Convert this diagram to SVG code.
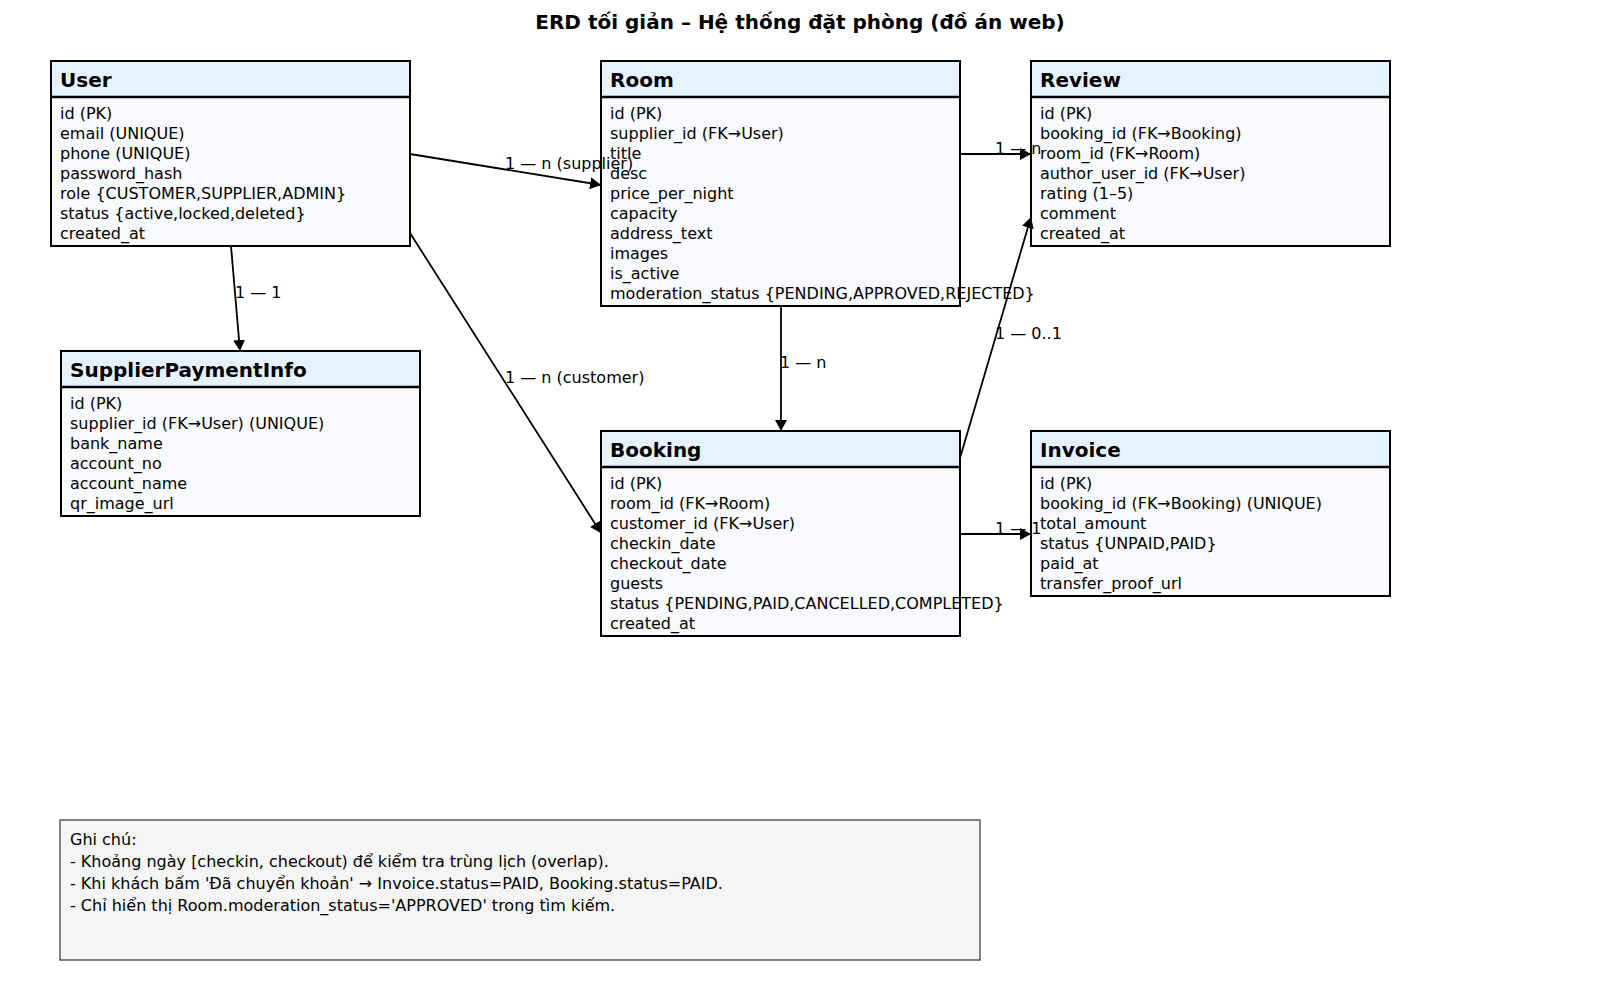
<svg xmlns="http://www.w3.org/2000/svg" width="1600" height="1000" viewBox="0 0 1600 1000">
<style>
text{font-family:"DejaVu Sans","Noto Sans",sans-serif;fill:#000}
.title{font-size:20px;font-weight:bold}
.hdr{font-size:20px;font-weight:bold}
.fld{font-size:16px}
.lbl{font-size:16px}
.note{font-size:16px}
.box{fill:#f8fafd;stroke:#000;stroke-width:2}
.head{fill:#e6f2ff;stroke:#000;stroke-width:2}
.sep{stroke:#000;stroke-width:2.5}
.conn{stroke:#000;stroke-width:1.8;fill:none;marker-end:url(#arr)}
.nbox{fill:#f5f5f5;stroke:#333;stroke-width:1.2}
</style>
<defs>
<marker id="arr" markerUnits="userSpaceOnUse" markerWidth="13" markerHeight="13" refX="11" refY="6" orient="auto">
<path d="M0,0 L11,6 L0,12 z" fill="#000"/>
</marker>
</defs>
<rect width="1600" height="1000" fill="#fff"/>
<text class="title" x="800" y="29" text-anchor="middle">ERD tối giản – Hệ thống đặt phòng (đồ án web)</text>

<g id="node-user">
<rect class="box" x="51" y="61" width="359" height="185"/>
<rect class="head" x="51" y="61" width="359" height="36"/>
<line class="sep" x1="51" y1="97" x2="410" y2="97"/>
<text class="hdr" x="60" y="87">User</text>
<text class="fld" x="60" y="119">id (PK)</text>
<text class="fld" x="60" y="139">email (UNIQUE)</text>
<text class="fld" x="60" y="159">phone (UNIQUE)</text>
<text class="fld" x="60" y="179">password_hash</text>
<text class="fld" x="60" y="199">role {CUSTOMER,SUPPLIER,ADMIN}</text>
<text class="fld" x="60" y="219">status {active,locked,deleted}</text>
<text class="fld" x="60" y="239">created_at</text>
</g>

<g id="node-room">
<rect class="box" x="601" y="61" width="359" height="245"/>
<rect class="head" x="601" y="61" width="359" height="36"/>
<line class="sep" x1="601" y1="97" x2="960" y2="97"/>
<text class="hdr" x="610" y="87">Room</text>
<text class="fld" x="610" y="119">id (PK)</text>
<text class="fld" x="610" y="139">supplier_id (FK→User)</text>
<text class="fld" x="610" y="159">title</text>
<text class="fld" x="610" y="179">desc</text>
<text class="fld" x="610" y="199">price_per_night</text>
<text class="fld" x="610" y="219">capacity</text>
<text class="fld" x="610" y="239">address_text</text>
<text class="fld" x="610" y="259">images</text>
<text class="fld" x="610" y="279">is_active</text>
<text class="fld" x="610" y="299">moderation_status {PENDING,APPROVED,REJECTED}</text>
</g>

<g id="node-review">
<rect class="box" x="1031" y="61" width="359" height="185"/>
<rect class="head" x="1031" y="61" width="359" height="36"/>
<line class="sep" x1="1031" y1="97" x2="1390" y2="97"/>
<text class="hdr" x="1040" y="87">Review</text>
<text class="fld" x="1040" y="119">id (PK)</text>
<text class="fld" x="1040" y="139">booking_id (FK→Booking)</text>
<text class="fld" x="1040" y="159">room_id (FK→Room)</text>
<text class="fld" x="1040" y="179">author_user_id (FK→User)</text>
<text class="fld" x="1040" y="199">rating (1–5)</text>
<text class="fld" x="1040" y="219">comment</text>
<text class="fld" x="1040" y="239">created_at</text>
</g>

<g id="node-supplierpaymentinfo">
<rect class="box" x="61" y="351" width="359" height="165"/>
<rect class="head" x="61" y="351" width="359" height="36"/>
<line class="sep" x1="61" y1="387" x2="420" y2="387"/>
<text class="hdr" x="70" y="377">SupplierPaymentInfo</text>
<text class="fld" x="70" y="409">id (PK)</text>
<text class="fld" x="70" y="429">supplier_id (FK→User) (UNIQUE)</text>
<text class="fld" x="70" y="449">bank_name</text>
<text class="fld" x="70" y="469">account_no</text>
<text class="fld" x="70" y="489">account_name</text>
<text class="fld" x="70" y="509">qr_image_url</text>
</g>

<g id="node-booking">
<rect class="box" x="601" y="431" width="359" height="205"/>
<rect class="head" x="601" y="431" width="359" height="36"/>
<line class="sep" x1="601" y1="467" x2="960" y2="467"/>
<text class="hdr" x="610" y="457">Booking</text>
<text class="fld" x="610" y="489">id (PK)</text>
<text class="fld" x="610" y="509">room_id (FK→Room)</text>
<text class="fld" x="610" y="529">customer_id (FK→User)</text>
<text class="fld" x="610" y="549">checkin_date</text>
<text class="fld" x="610" y="569">checkout_date</text>
<text class="fld" x="610" y="589">guests</text>
<text class="fld" x="610" y="609">status {PENDING,PAID,CANCELLED,COMPLETED}</text>
<text class="fld" x="610" y="629">created_at</text>
</g>

<g id="node-invoice">
<rect class="box" x="1031" y="431" width="359" height="165"/>
<rect class="head" x="1031" y="431" width="359" height="36"/>
<line class="sep" x1="1031" y1="467" x2="1390" y2="467"/>
<text class="hdr" x="1040" y="457">Invoice</text>
<text class="fld" x="1040" y="489">id (PK)</text>
<text class="fld" x="1040" y="509">booking_id (FK→Booking) (UNIQUE)</text>
<text class="fld" x="1040" y="529">total_amount</text>
<text class="fld" x="1040" y="549">status {UNPAID,PAID}</text>
<text class="fld" x="1040" y="569">paid_at</text>
<text class="fld" x="1040" y="589">transfer_proof_url</text>
</g>

<g id="connectors">
<path class="conn" d="M410,154 L601,185"/>
<text class="lbl" x="505" y="169">1 — n (supplier)</text>
<path class="conn" d="M231,246 L240,351"/>
<text class="lbl" x="235" y="298">1 — 1</text>
<path class="conn" d="M410,233 L601,533"/>
<text class="lbl" x="505" y="383">1 — n (customer)</text>
<path class="conn" d="M781,306 L781,431"/>
<text class="lbl" x="780" y="368">1 — n</text>
<path class="conn" d="M960,154 L1031,154"/>
<text class="lbl" x="995" y="154">1 — n</text>
<path class="conn" d="M960,458 L1031,217"/>
<text class="lbl" x="995" y="339">1 — 0..1</text>
<path class="conn" d="M960,534 L1031,534"/>
<text class="lbl" x="995" y="534">1 — 1</text>
</g>

<g id="notes">
<rect class="nbox" x="60" y="820" width="920" height="140"/>
<text class="note" x="70" y="845">Ghi chú:</text>
<text class="note" x="70" y="867">- Khoảng ngày [checkin, checkout) để kiểm tra trùng lịch (overlap).</text>
<text class="note" x="70" y="889">- Khi khách bấm 'Đã chuyển khoản' → Invoice.status=PAID, Booking.status=PAID.</text>
<text class="note" x="70" y="911">- Chỉ hiển thị Room.moderation_status='APPROVED' trong tìm kiếm.</text>
</g>
</svg>
